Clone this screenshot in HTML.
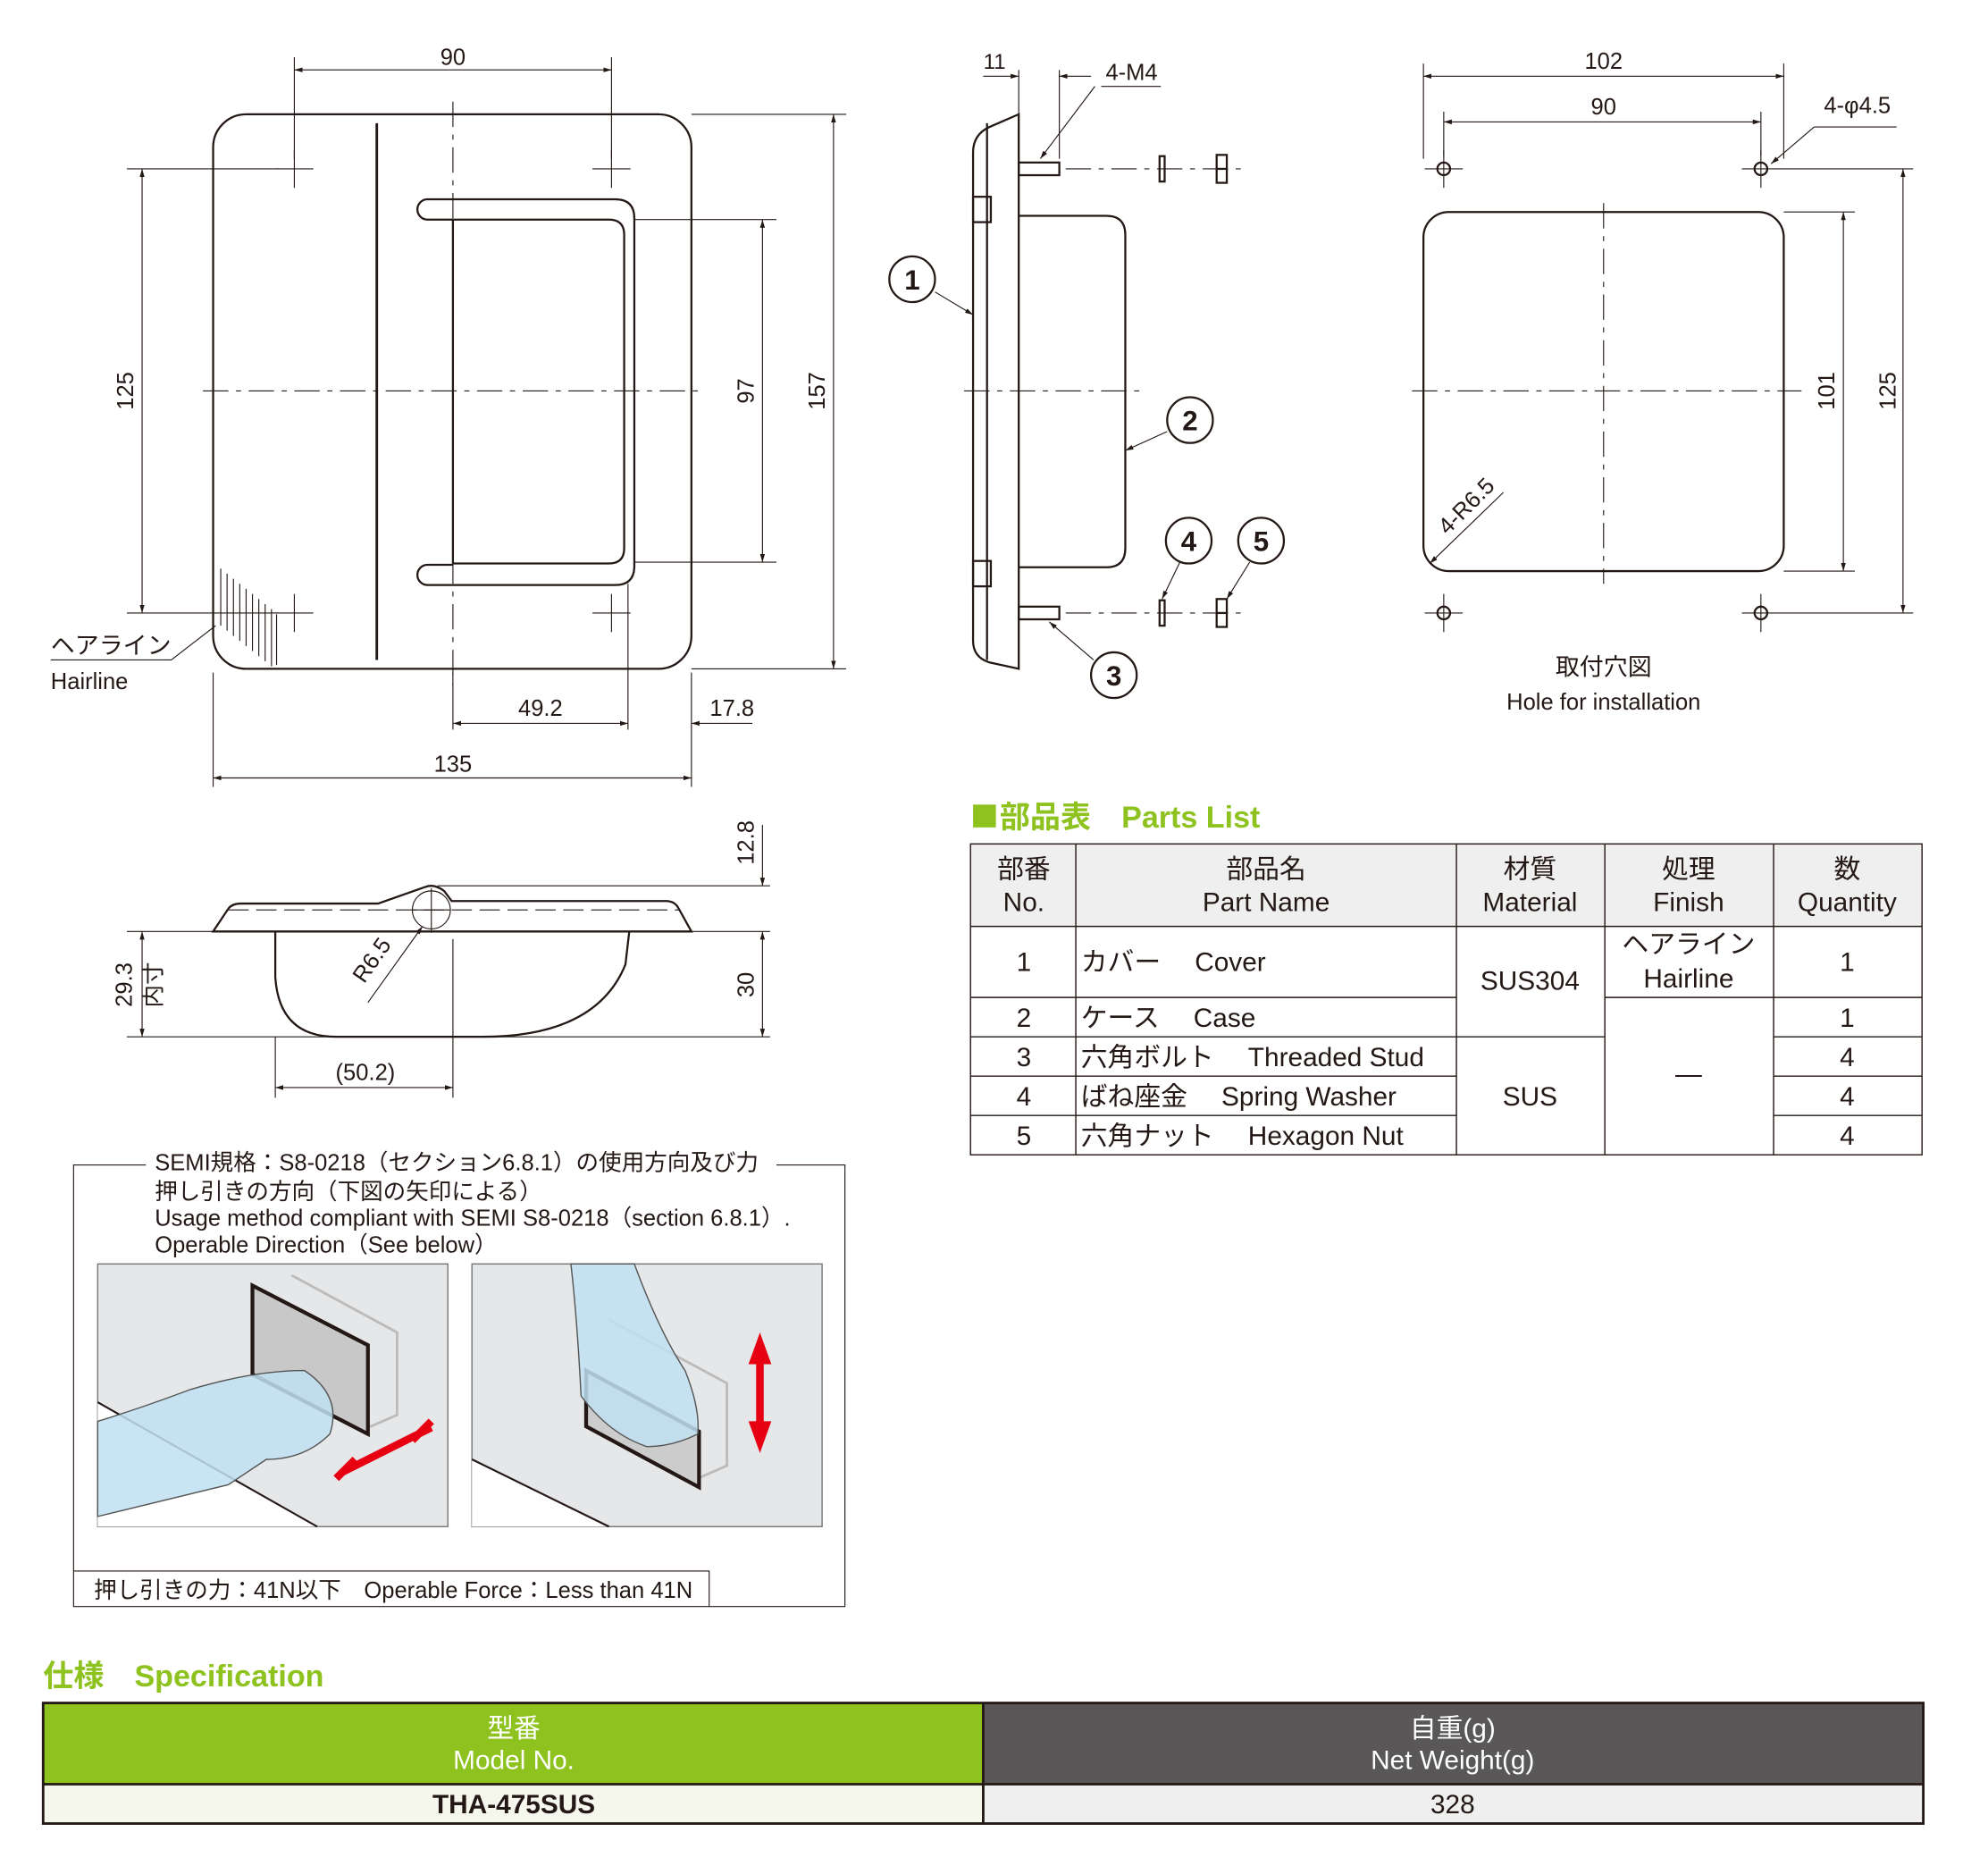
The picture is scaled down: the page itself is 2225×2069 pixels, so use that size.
<!DOCTYPE html>
<html><head><meta charset="utf-8"><style>
html,body{margin:0;padding:0;background:#fff}
svg{display:block}
text{font-family:"Liberation Sans","Noto Sans CJK JP",sans-serif;fill:#231815}
</style></head><body>
<svg width="2225" height="2069" viewBox="0 0 1567 1457" xmlns="http://www.w3.org/2000/svg">
<defs>
<marker id="a" viewBox="0 0 10 10" refX="10" refY="5" markerWidth="8" markerHeight="8" orient="auto-start-reverse"><path d="M0,2 L10,5 L0,8z" fill="#231815"/></marker>
</defs>
<g stroke="#231815" fill="none" stroke-width="1.6">
<rect x="168" y="90" width="377" height="437" rx="26"/>
<line x1="297" y1="97" x2="297" y2="520" stroke-width="2"/>
<path d="M337,157 H485 Q500,157 500,172 V446 Q500,461 485,461 H337 A8,8 0 0 1 337,445 H357" />
<path d="M337,157 A8,8 0 0 0 337,173 H480 Q492,173 492,185 V432 Q492,444 480,444 H357"/>
<line x1="357" y1="173" x2="357" y2="444"/>
</g>
<g stroke="#231815" stroke-width="0.8" fill="none">
<line x1="357" y1="80" x2="357" y2="540" stroke-dasharray="20,6,4,6"/>
<line x1="160" y1="308" x2="555" y2="308" stroke-dasharray="20,6,4,6"/>
<path d="M217,133h30M232,118v30M467,133h30M482,118v30M217,483h30M232,468v30M467,483h30M482,468v30"/>
<path d="M174,448v45M179,452v45M184,456v45M189,460v45M194,464v45M199,468v45M204,472v45M209,476v45M214,480v45M218,484v40"/>
<path d="M232,45v80M482,45v80M100,133h120M100,483h120M500,173h112M500,443h112M545,90h122M545,527h122M357,530v45M495,460v115M545,530v90M168,530v90"/>
<line x1="232" y1="55" x2="482" y2="55" marker-start="url(#a)" marker-end="url(#a)"/>
<line x1="112" y1="133" x2="112" y2="483" marker-start="url(#a)" marker-end="url(#a)"/>
<line x1="601" y1="173" x2="601" y2="443" marker-start="url(#a)" marker-end="url(#a)"/>
<line x1="657" y1="90" x2="657" y2="527" marker-start="url(#a)" marker-end="url(#a)"/>
<line x1="357" y1="570" x2="495" y2="570" marker-start="url(#a)" marker-end="url(#a)"/>
<line x1="593" y1="570" x2="545" y2="570" marker-end="url(#a)"/>
<line x1="168" y1="613" x2="545" y2="613" marker-start="url(#a)" marker-end="url(#a)"/>
<path d="M40,520 H135 L170,493"/>
</g>
<g font-size="18" text-anchor="middle">
<text x="357" y="51">90</text>
<text x="105" y="308" transform="rotate(-90 105 308)">125</text>
<text x="594" y="308" transform="rotate(-90 594 308)">97</text>
<text x="650" y="308" transform="rotate(-90 650 308)">157</text>
<text x="426" y="564">49.2</text>
<text x="577" y="564">17.8</text>
<text x="357" y="608">135</text>
</g>
<text x="40" y="515" font-size="19">ヘアライン</text>
<text x="40" y="543" font-size="18">Hairline</text>

<g stroke="#231815" fill="none" stroke-width="1.6">
<path d="M803,90 L780,100 Q767,106 767,120 V505 Q767,518 780,522 L803,527 Z"/>
<line x1="778" y1="97" x2="778" y2="520"/>
<rect x="767" y="155" width="14" height="20"/><rect x="767" y="442" width="14" height="20"/>
<path d="M803,170 H872 Q887,170 887,185 V432 Q887,447 872,447 H803"/>
<rect x="803" y="128" width="32" height="10"/><rect x="803" y="478" width="32" height="10"/>
<rect x="914" y="123" width="4" height="20"/><rect x="914" y="473" width="4" height="20"/>
<rect x="959" y="122" width="8" height="22"/><rect x="959" y="472" width="8" height="22"/>
<line x1="959" y1="133" x2="967" y2="133"/><line x1="959" y1="483" x2="967" y2="483"/>
<circle cx="719" cy="220" r="18"/><circle cx="938" cy="331" r="18"/><circle cx="878" cy="532" r="18"/>
<circle cx="937" cy="426" r="18"/><circle cx="994" cy="426" r="18"/>
</g>
<g stroke="#231815" stroke-width="0.8" fill="none">
<path d="M760,308H900M840,133H980M840,483H980" stroke-dasharray="20,6,4,6"/>
<path d="M803,55v70M835,55v70"/>
<line x1="775" y1="60" x2="803" y2="60" marker-end="url(#a)"/>
<line x1="860" y1="60" x2="835" y2="60" marker-end="url(#a)"/>
<line x1="863" y1="68" x2="820" y2="125" marker-end="url(#a)"/>
<line x1="737" y1="230" x2="767" y2="248" marker-end="url(#a)"/>
<line x1="920" y1="340" x2="887" y2="355" marker-end="url(#a)"/>
<line x1="862" y1="520" x2="827" y2="490" marker-end="url(#a)"/>
<line x1="930" y1="443" x2="916" y2="472" marker-end="url(#a)"/>
<line x1="985" y1="443" x2="967" y2="472" marker-end="url(#a)"/>
<path d="M868,68H915"/>
</g>
<g font-size="22" text-anchor="middle" font-weight="bold">
<text x="719" y="228">1</text><text x="938" y="339">2</text><text x="878" y="540">3</text><text x="937" y="434">4</text><text x="994" y="434">5</text>
</g>
<text x="784" y="54" font-size="17" text-anchor="middle">11</text>
<text x="892" y="63" font-size="18" text-anchor="middle">4-M4</text>

<g stroke="#231815" fill="none" stroke-width="1.6">
<rect x="1122" y="167" width="284" height="283" rx="20"/>
<circle cx="1138" cy="133" r="5"/><circle cx="1388" cy="133" r="5"/><circle cx="1138" cy="483" r="5"/><circle cx="1388" cy="483" r="5"/>
</g>
<g stroke="#231815" stroke-width="0.8" fill="none">
<path d="M1113,308H1420M1264,160V460" stroke-dasharray="20,6,4,6"/>
<path d="M1123,133h30M1138,118v30M1373,133h135M1388,118v30M1123,483h30M1138,468v30M1373,483h135M1388,468v30"/>
<path d="M1122,50v75M1406,50v75M1138,88v35M1388,88v35M1406,167h56M1406,450h56"/>
<line x1="1122" y1="60" x2="1406" y2="60" marker-start="url(#a)" marker-end="url(#a)"/>
<line x1="1138" y1="96" x2="1388" y2="96" marker-start="url(#a)" marker-end="url(#a)"/>
<line x1="1453" y1="167" x2="1453" y2="450" marker-start="url(#a)" marker-end="url(#a)"/>
<line x1="1500" y1="133" x2="1500" y2="483" marker-start="url(#a)" marker-end="url(#a)"/>
<line x1="1430" y1="100" x2="1396" y2="129" marker-end="url(#a)"/>
<path d="M1430,100H1495"/>
<line x1="1185" y1="388" x2="1127" y2="444" marker-end="url(#a)"/>
</g>
<g font-size="18" text-anchor="middle">
<text x="1264" y="54">102</text><text x="1264" y="90">90</text>
<text x="1464" y="89">4-φ4.5</text>
<text x="1446" y="308" transform="rotate(-90 1446 308)">101</text>
<text x="1494" y="308" transform="rotate(-90 1494 308)">125</text>
<text x="1160" y="403" transform="rotate(-45 1160 403)">4-R6.5</text>
<text x="1264" y="532" font-size="19">取付穴図</text>
<text x="1264" y="559">Hole for installation</text>
</g>

<g stroke="#231815" fill="none" stroke-width="1.6">
<path d="M168,734 L180,716 Q183,712 190,712 H298 L335,699 Q342,696 350,702 L356,710 H525 Q532,710 535,716 L545,734 Z"/>
<path d="M217,734 V770 Q220,817 265,817 H380 Q470,817 493,760 L496,734"/>
<circle cx="340" cy="717" r="15" stroke-width="0.8"/>
</g>
<g stroke="#231815" stroke-width="0.8" fill="none">
<path d="M180,717H535" stroke-dasharray="16,6"/>
<path d="M340,700v35M325,717h30"/>
<path d="M100,734h68M100,817h507M545,734h62M345,698h262M217,817v48M357,740v125"/>
<line x1="112" y1="734" x2="112" y2="817" marker-start="url(#a)" marker-end="url(#a)"/>
<line x1="601" y1="734" x2="601" y2="817" marker-start="url(#a)" marker-end="url(#a)"/>
<line x1="601" y1="650" x2="601" y2="698" marker-end="url(#a)"/>
<line x1="217" y1="857" x2="357" y2="857" marker-start="url(#a)" marker-end="url(#a)"/>
<line x1="290" y1="790" x2="333" y2="730" marker-end="url(#a)"/>
</g>
<g font-size="18" text-anchor="middle">
<text x="104" y="776" transform="rotate(-90 104 776)">29.3</text>
<text x="127" y="776" transform="rotate(-90 127 776)">内寸</text>
<text x="594" y="776" transform="rotate(-90 594 776)">30</text>
<text x="594" y="664" transform="rotate(-90 594 664)">12.8</text>
<text x="288" y="851">(50.2)</text>
<text x="298" y="760" transform="rotate(-55 298 760)">R6.5</text>
</g>

<g stroke="#231815" stroke-width="0.8" fill="none">
<path d="M115,918H58V1266H666V918H612"/>
<path d="M58,1238H559V1266"/>
</g>
<g font-size="18">
<text x="122" y="922">SEMI規格：S8-0218（セクション6.8.1）の使用方向及び力</text>
<text x="122" y="945">押し引きの方向（下図の矢印による）</text>
<text x="122" y="966">Usage method compliant with SEMI S8-0218（section 6.8.1）.</text>
<text x="122" y="987">Operable Direction（See below）</text>
<text x="74" y="1259">押し引きの力：41N以下　Operable Force：Less than 41N</text>
</g>
<rect x="77" y="996" width="276" height="207" fill="#e6e7e8" stroke="#777"/>
<path d="M77,1105 L250,1203 H77Z" fill="#ffffff"/>
<path d="M77,1105 L250,1203" stroke="#231815" stroke-width="1.5"/>
<path d="M230,1005 L313,1050 V1115 L290,1125" fill="none" stroke="#bbb" stroke-width="2"/>
<path d="M199,1013 L290,1060 V1130 L199,1083Z" fill="#c8c8c8" stroke="#231815" stroke-width="3"/>
<path d="M77,1120 Q110,1110 150,1095 Q200,1080 240,1080 Q270,1100 260,1130 Q240,1150 210,1150 L180,1170 L77,1195Z" fill="#bfe1f2" fill-opacity="0.85" stroke="#555"/>
<path d="M270,1160 L340,1125 M265,1165 L280,1150 M340,1120 L325,1135" stroke="#e60012" stroke-width="6"/>
<rect x="372" y="996" width="276" height="207" fill="#e6e7e8" stroke="#777"/>
<path d="M372,1150 L480,1203 H372Z" fill="#fff"/>
<path d="M372,1150 L480,1203" stroke="#231815" stroke-width="1.5"/>
<path d="M480,1040 L573,1090 V1155 L550,1165" fill="none" stroke="#bbb" stroke-width="2"/>
<path d="M462,1080 L551,1128 V1172 L462,1124Z" fill="#ccc" stroke="#231815" stroke-width="3"/>
<path d="M450,996 L500,996 Q520,1050 540,1080 Q552,1110 550,1130 Q530,1140 510,1140 Q480,1130 458,1100 Q455,1040 450,996Z" fill="#bfe1f2" fill-opacity="0.85" stroke="#555"/>
<path d="M599,1060 V1135" stroke="#e60012" stroke-width="6"/>
<path d="M590,1075 L599,1050 L608,1075Z M590,1120 L599,1145 L608,1120Z" fill="#e60012"/>

<rect x="767" y="634" width="18" height="18" fill="#8dc21f"/>
<text x="788" y="652" font-size="24" font-weight="bold" style="fill:#8dc21f">部品表　Parts List</text>
<rect x="765" y="665" width="750" height="65" fill="#efefef"/>
<g stroke="#231815" stroke-width="1" fill="none">
<rect x="765" y="665" width="750" height="245"/>
<path d="M848,665V910M1148,665V910M1265,665V910M1398,665V910"/>
<path d="M765,730H1515M765,786H1148M1265,786H1515M765,817H1265M1398,817H1515M765,848H1148M1398,848H1515M765,879H1148M1398,879H1515"/>
</g>
<g font-size="21" text-anchor="middle">
<text x="807" y="692">部番</text><text x="807" y="718">No.</text>
<text x="998" y="692">部品名</text><text x="998" y="718">Part Name</text>
<text x="1206" y="692">材質</text><text x="1206" y="718">Material</text>
<text x="1331" y="692">処理</text><text x="1331" y="718">Finish</text>
<text x="1456" y="692">数</text><text x="1456" y="718">Quantity</text>
<text x="807" y="765">1</text><text x="807" y="809">2</text><text x="807" y="840">3</text><text x="807" y="871">4</text><text x="807" y="902">5</text>
<text x="1206" y="780">SUS304</text><text x="1206" y="871">SUS</text>
<text x="1331" y="751">ヘアライン</text><text x="1331" y="778">Hairline</text><text x="1331" y="853">—</text>
<text x="1456" y="765">1</text><text x="1456" y="809">1</text><text x="1456" y="840">4</text><text x="1456" y="871">4</text><text x="1456" y="902">4</text>
</g>
<g font-size="21">
<text x="852" y="765">カバー　 Cover</text>
<text x="852" y="809">ケース　 Case</text>
<text x="852" y="840">六角ボルト　 Threaded Stud</text>
<text x="852" y="871">ばね座金　 Spring Washer</text>
<text x="852" y="902">六角ナット　 Hexagon Nut</text>
</g>

<text x="34" y="1329" font-size="24" font-weight="bold" style="fill:#8dc21f">仕様　Specification</text>
<rect x="34" y="1342" width="741" height="64" fill="#8dc21f"/>
<rect x="775" y="1342" width="741" height="64" fill="#595757"/>
<rect x="34" y="1406" width="741" height="31" fill="#f6f7ec"/>
<rect x="775" y="1406" width="741" height="31" fill="#efefef"/>
<g stroke="#231815" stroke-width="2" fill="none"><rect x="34" y="1342" width="1482" height="95"/><path d="M775,1342V1437M34,1406H1516"/></g>
<g font-size="21" text-anchor="middle">
<text x="405" y="1369" style="fill:#fff">型番</text><text x="405" y="1394" style="fill:#fff">Model No.</text>
<text x="1145" y="1369" style="fill:#fff">自重(g)</text><text x="1145" y="1394" style="fill:#fff">Net Weight(g)</text>
<text x="405" y="1429" font-weight="bold">THA-475SUS</text>
<text x="1145" y="1429">328</text>
</g>
</svg>
</body></html>
